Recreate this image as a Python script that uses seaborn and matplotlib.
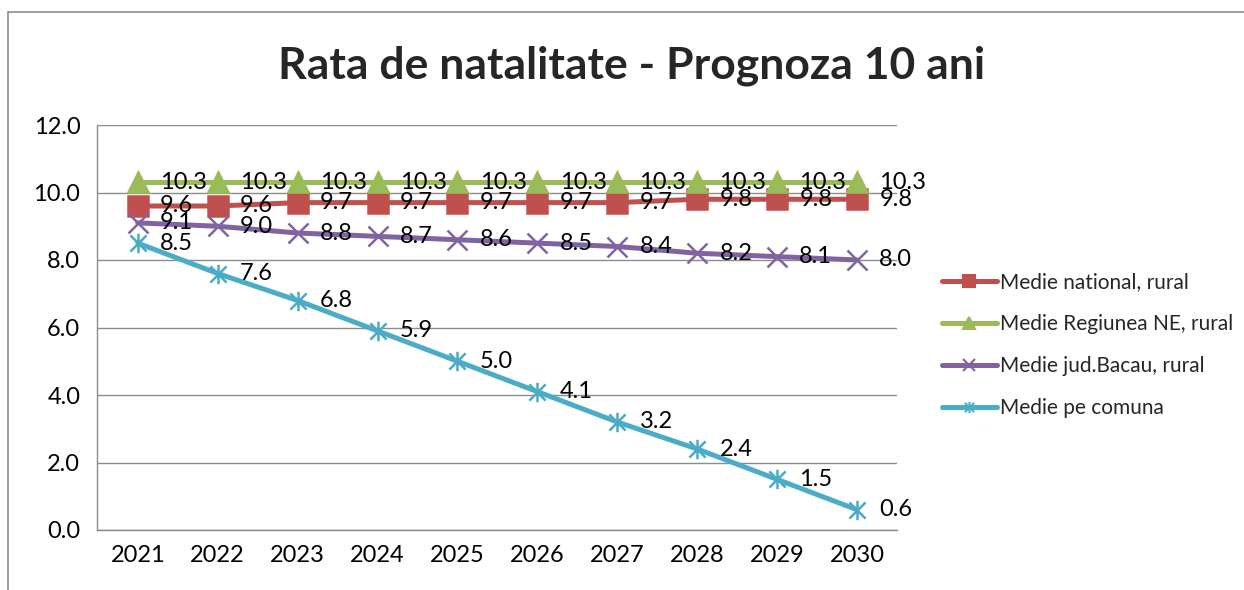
import matplotlib
matplotlib.use("Agg")
import matplotlib.pyplot as plt
from matplotlib.lines import Line2D
from matplotlib.path import Path
import seaborn as sns
import pandas as pd

years = [2021, 2022, 2023, 2024, 2025, 2026, 2027, 2028, 2029, 2030]
national = [9.6, 9.6, 9.7, 9.7, 9.7, 9.7, 9.7, 9.8, 9.8, 9.8]
regiune_ne = [10.3, 10.3, 10.3, 10.3, 10.3, 10.3, 10.3, 10.3, 10.3, 10.3]
bacau = [9.1, 9.0, 8.8, 8.7, 8.6, 8.5, 8.4, 8.2, 8.1, 8.0]
comuna = [8.5, 7.6, 6.8, 5.9, 5.0, 4.1, 3.2, 2.4, 1.5, 0.6]

series_names = ["Medie national, rural", "Medie Regiunea NE, rural",
                "Medie jud.Bacau, rural", "Medie pe comuna"]
series_vals = [national, regiune_ne, bacau, comuna]
colors = ["#C0504D", "#9BBB59", "#8064A2", "#4BACC6"]

# excel-style star: an x with a vertical stroke
star = Path([(-1, -1), (1, 1), (-1, 1), (1, -1), (0, -1.2), (0, 1.2)],
            [Path.MOVETO, Path.LINETO, Path.MOVETO, Path.LINETO, Path.MOVETO, Path.LINETO])
markers = ["s", "^", "x", star]

sns.set_theme(style="white")
plt.rcParams["font.family"] = ["Lato", "DejaVu Sans"]

fig = plt.figure(figsize=(12.44, 5.90), dpi=100)
ax = fig.add_axes([97 / 1244, 1 - 530 / 590, 800 / 1244, 405 / 590])

for name, vals, c, m in zip(series_names, series_vals, colors, markers):
    df = pd.DataFrame({"an": years, "rata": vals})
    sns.lineplot(data=df, x="an", y="rata", color=c, marker=m,
                 linewidth=3.6, markeredgecolor=c, ax=ax, label=name)

# bigger markers like the original
for line in ax.lines:
    line.set_markersize(14)
    line.set_markeredgewidth(1.8)

# data labels to the right of each point
for name, vals in zip(series_names, series_vals):
    for y, v in zip(years, vals):
        ax.annotate("%.1f" % v, (y, v), xytext=(16, 0), textcoords="offset points",
                    ha="left", va="center", fontsize=17, color="black")

ax.set_xlim(2020.49, 2030.5)
ax.set_ylim(0, 12)
ax.set_yticks([0, 2, 4, 6, 8, 10, 12])
ax.set_yticklabels(["%.1f" % t for t in [0, 2, 4, 6, 8, 10, 12]])
ax.set_xticks(years)
ax.set_xticklabels([str(y) for y in years])
ax.tick_params(axis="y", length=0, pad=12, labelsize=17, labelcolor="black")
ax.tick_params(axis="x", length=0, pad=11, labelsize=17, labelcolor="black")
ax.set_xlabel("")
ax.set_ylabel("")
ax.grid(axis="y", color="#8c8c8c", linewidth=1)
ax.set_axisbelow(True)
for s in ["top", "right"]:
    ax.spines[s].set_visible(False)
for s in ["left", "bottom"]:
    ax.spines[s].set_color("#8c8c8c")
    ax.spines[s].set_linewidth(1)

ax.get_legend().remove()
# legend handles with small markers (separate objects, not the plotted lines)
handles = [Line2D([], [], color=c, marker=m, markersize=8, markeredgewidth=1.5,
                  markeredgecolor=c, linewidth=3.6) for c, m in zip(colors, markers)]
fig.legend(handles, series_names, loc="center left", bbox_to_anchor=(934 / 1244, 1 - 345 / 590),
           frameon=False, fontsize=15, labelspacing=1.05, handlelength=2.6,
           handletextpad=0.15, borderaxespad=0)

fig.text(0.508, 1 - 66 / 590, "Rata de natalitate - Prognoza 10 ani",
         ha="center", va="center", fontsize=32, fontweight="bold")

# outer chart frame
fig.add_artist(Line2D([8 / 1244, 8 / 1244], [0, 1 - 12 / 590], color="#8c8c8c", linewidth=1.2))
fig.add_artist(Line2D([8 / 1244, 1], [1 - 12 / 590, 1 - 12 / 590], color="#8c8c8c", linewidth=1.2))

fig.savefig("out.png", dpi=100)
